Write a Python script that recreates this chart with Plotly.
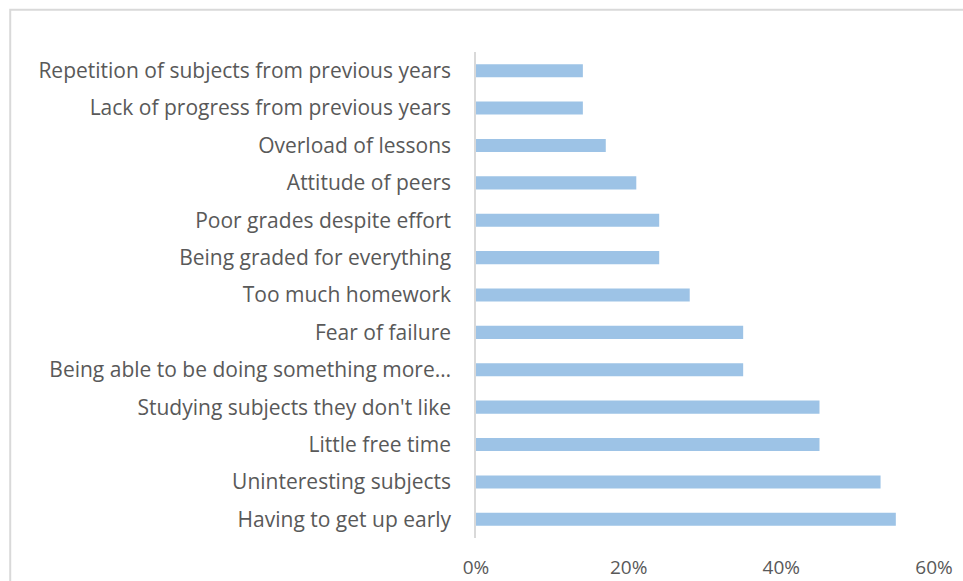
import plotly.graph_objects as go

# Reasons listed from top to bottom as displayed
reasons = [
    "Repetition of subjects from previous years",
    "Lack of progress from previous years",
    "Overload of lessons",
    "Attitude of peers",
    "Poor grades despite effort",
    "Being graded for everything",
    "Too much homework",
    "Fear of failure",
    "Being able to be doing something more…",
    "Studying subjects they don't like",
    "Little free time",
    "Uninteresting subjects",
    "Having to get up early",
]
shares = [0.14, 0.14, 0.17, 0.21, 0.24, 0.24, 0.28, 0.35, 0.35, 0.45, 0.45, 0.53, 0.55]
x_ticks = [0, 0.2, 0.4, 0.6]
x_tick_labels = ["0%", "20%", "40%", "60%"]

FONT = "Open Sans, Carlito, Calibri, sans-serif"
TEXT = "#595959"

fig = go.Figure(
    go.Bar(
        x=shares,
        y=reasons,
        orientation="h",
        marker=dict(color="#9dc3e6", line=dict(width=0)),
        hoverinfo="x+y",
    )
)

fig.update_layout(
    width=963,
    height=581,
    margin=dict(l=476, r=29, t=52, b=43, autoexpand=False),
    paper_bgcolor="white",
    plot_bgcolor="white",
    bargap=0.65,
    showlegend=False,
    font=dict(family=FONT, size=19, color=TEXT),
    shapes=[
        # outer chart-area frame (top and left edges visible)
        dict(
            type="rect",
            xref="paper",
            yref="paper",
            x0=-1.017,
            x1=2.0,
            y0=-1.0,
            y1=1.087,
            line=dict(color="#d9d9d9", width=2),
            layer="below",
        )
    ],
)

fig.update_xaxes(
    range=[0, 0.6],
    tickvals=x_ticks,
    ticktext=x_tick_labels,
    showgrid=False,
    zeroline=False,
    showline=False,
    ticks="",
    tickfont=dict(family=FONT, size=19, color=TEXT),
    ticklabelstandoff=16,
    automargin=False,
    fixedrange=True,
)

fig.update_yaxes(
    categoryorder="array",
    categoryarray=reasons[::-1],
    showgrid=False,
    zeroline=False,
    showline=True,
    linecolor="#d9d9d9",
    linewidth=1.5,
    ticks="",
    tickfont=dict(family=FONT, size=21, color=TEXT),
    ticklabelstandoff=19,
    automargin=False,
    fixedrange=True,
)

fig.write_html("out.html")
